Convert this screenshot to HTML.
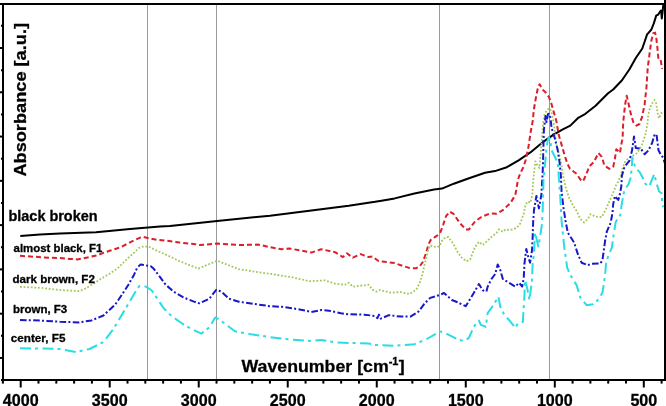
<!DOCTYPE html>
<html><head><meta charset="utf-8"><style>
html,body{margin:0;padding:0;background:#fff;}
body{width:666px;height:406px;overflow:hidden;}
svg{display:block;}
text{font-family:"Liberation Sans",Arial,sans-serif;font-weight:bold;fill:#000;stroke:#000;stroke-width:0.3px;}
</style></head><body>
<svg width="666" height="406" viewBox="0 0 666 406">
<rect x="0" y="0" width="666" height="406" fill="#fff"/>
<g stroke="#999" stroke-width="1">
<line x1="147.5" y1="5" x2="147.5" y2="379"/>
<line x1="216.5" y1="5" x2="216.5" y2="379"/>
<line x1="439.5" y1="5" x2="439.5" y2="379"/>
<line x1="549.5" y1="5" x2="549.5" y2="379"/>
</g>
<g fill="none" stroke-width="2" stroke-linejoin="round">
<polyline stroke="#000" points="20.3,236.0 40.0,234.4 60.0,233.5 96.0,232.2 130.0,229.0 160.0,226.4 170.0,225.9 217.2,220.9 270.0,215.7 309.4,210.8 348.8,205.8 375.0,201.8 380.0,200.9 394.7,198.4 414.4,193.5 434.1,189.6 442.0,188.6 453.8,183.7 467.6,178.7 485.0,172.8 495.0,171.1 506.8,167.2 518.6,160.3 530.4,152.4 543.9,141.3 554.0,134.4 562.8,129.4 570.3,125.6 577.8,118.2 585.4,113.8 595.6,105.8 608.1,93.3 613.2,89.5 622.0,80.2 629.5,69.2 635.8,58.0 642.3,48.5 644.6,41.8 647.1,34.4 648.5,32.8 651.4,29.5 653.8,23.4 656.3,15.4 658.1,14.8 660.0,11.7 661.1,10.5 661.8,18.5 662.8,9.8 663.5,3.0"/>
<polyline stroke="#da1e2a" stroke-dasharray="5 3" points="20.0,255.8 35.0,256.8 50.0,257.8 60.0,258.0 70.0,258.9 77.2,259.4 83.5,258.4 90.7,256.8 97.0,255.3 104.2,252.6 109.6,250.8 116.8,248.5 122.3,246.3 127.7,243.6 134.0,240.4 140.8,237.3 143.0,236.8 150.7,238.7 156.6,239.7 166.4,240.7 179.7,242.6 195.5,244.2 199.4,245.0 217.2,243.6 238.8,245.0 258.6,244.6 270.0,247.2 281.8,249.2 289.7,248.6 299.6,250.2 311.4,252.6 321.3,249.2 335.0,252.2 342.9,257.1 346.9,253.2 352.8,257.7 360.7,254.1 368.6,257.1 372.5,256.5 378.4,261.0 394.7,263.1 404.6,266.5 409.9,268.1 416.0,268.3 419.7,266.3 422.8,262.0 424.6,257.0 426.5,252.0 428.3,244.7 430.8,239.8 434.5,237.3 438.2,234.9 440.6,231.8 443.1,225.0 446.0,216.2 449.9,211.6 453.8,214.2 459.8,223.0 465.7,229.4 468.8,229.6 471.6,226.0 475.1,221.4 481.4,217.0 490.2,213.3 496.5,213.7 502.8,210.2 510.3,203.2 515.3,195.1 518.1,179.1 520.3,173.2 523.3,167.3 526.2,158.4 528.5,146.6 530.7,131.8 532.9,120.0 533.8,110.0 536.1,96.5 538.0,87.5 539.6,84.2 542.2,89.1 545.9,92.8 549.0,97.1 551.5,103.9 553.9,112.5 556.4,121.1 558.7,134.8 561.7,145.1 564.7,155.5 567.6,164.3 570.0,168.7 573.5,171.5 576.6,173.8 580.0,179.0 582.2,181.5 584.0,179.5 585.8,175.1 589.5,166.2 594.0,161.8 598.4,153.0 601.8,156.8 604.4,165.6 609.4,168.8 613.2,166.9 615.0,158.1 616.3,149.3 618.2,151.0 620.0,153.0 621.0,146.0 622.6,138.0 623.2,122.2 625.1,104.6 626.7,95.8 628.2,102.0 630.7,113.4 633.3,122.2 636.4,125.7 639.5,124.0 642.0,117.1 644.6,104.6 646.4,88.0 647.7,68.1 649.0,58.0 650.3,48.0 651.4,40.6 653.2,33.2 655.1,32.6 656.3,38.1 657.3,46.7 657.8,52.0 658.4,59.2 660.7,60.0 662.1,68.8"/>
<polyline stroke="#a2c858" stroke-width="1.8" stroke-dasharray="1.8 1.8" points="20.0,286.9 40.0,287.8 60.0,290.0 79.7,291.2 85.0,288.8 93.1,284.0 101.3,278.6 109.4,273.9 117.5,268.5 125.7,260.3 132.4,254.2 139.2,247.8 142.8,246.6 148.7,246.6 158.6,251.5 170.0,256.5 179.7,261.3 198.4,268.6 217.2,260.7 238.8,269.2 258.6,272.2 270.0,273.9 289.7,276.8 309.4,281.2 325.2,280.4 335.0,283.7 344.9,284.7 348.8,282.7 352.8,286.7 368.6,284.7 372.5,289.6 376.4,291.6 380.0,290.0 390.8,292.7 400.6,292.1 409.5,294.1 416.4,289.5 420.0,282.0 422.2,275.0 424.6,264.4 426.5,257.0 428.3,249.6 430.2,245.3 433.3,246.6 437.0,247.2 439.4,246.0 441.9,241.0 445.6,237.3 448.5,237.0 453.8,244.8 457.5,251.9 461.7,257.6 466.3,261.3 470.1,259.4 475.1,246.8 478.9,241.8 482.7,245.0 486.4,241.8 491.5,236.8 496.5,233.0 499.0,229.3 502.8,231.8 505.3,229.6 510.3,230.0 516.6,228.0 520.4,223.3 523.8,213.5 525.4,205.1 527.9,201.4 530.4,202.6 532.3,195.1 533.4,178.0 535.4,161.3 537.3,165.2 539.3,168.1 541.0,150.0 543.0,125.0 544.5,114.4 547.0,110.0 549.6,108.2 551.5,112.0 554.0,125.0 556.5,145.0 560.0,157.4 563.0,175.1 565.9,188.4 568.9,197.3 573.3,206.1 576.4,210.5 580.4,219.0 584.1,222.5 587.9,219.0 590.5,214.2 595.6,216.7 601.8,217.0 605.8,209.5 608.7,203.0 613.0,193.0 616.0,185.5 618.5,181.0 620.6,176.0 622.6,168.0 625.5,160.7 629.5,157.7 632.5,156.0 636.9,153.3 640.0,148.4 642.5,143.5 645.6,133.6 647.4,124.0 648.3,114.7 650.1,107.3 652.0,103.6 654.5,99.9 656.3,103.6 657.2,111.0 658.8,118.4 660.6,114.7 661.8,112.2"/>
<polyline stroke="#1818c8" stroke-dasharray="6.6 2.2 2 2.4" points="20.0,320.0 40.0,320.5 60.0,321.8 79.7,322.4 91.5,320.4 103.4,315.5 115.2,304.5 122.3,294.2 128.4,284.7 133.8,275.2 137.2,267.8 140.6,264.4 144.0,265.0 146.7,265.5 150.5,266.0 153.8,268.8 159.7,276.7 165.6,284.6 173.5,291.5 183.4,297.4 193.3,301.4 199.4,303.3 209.3,298.7 216.2,289.9 221.1,291.4 229.0,298.7 238.8,301.7 254.6,304.0 270.0,306.2 281.8,306.8 299.6,309.4 311.4,311.9 321.3,310.0 329.1,310.7 341.0,313.3 348.8,314.3 364.6,314.7 374.5,315.9 377.4,318.2 379.0,314.6 380.9,318.6 388.8,315.2 400.6,316.6 410.5,316.6 418.4,311.7 424.3,303.8 430.2,297.9 440.0,294.9 444.0,293.0 451.9,300.0 457.5,302.3 465.7,306.2 470.1,299.1 473.9,292.8 478.9,284.0 482.7,290.3 486.4,291.6 487.7,286.6 491.5,279.0 495.2,274.0 497.7,264.4 500.3,270.0 502.8,279.0 509.0,282.8 515.3,286.6 519.1,282.8 522.2,286.6 523.8,277.0 524.4,264.0 526.3,249.0 528.5,258.0 530.1,262.7 532.0,250.2 532.6,238.8 533.2,221.0 534.0,210.0 536.4,196.0 538.9,208.4 541.4,194.6 542.7,172.0 543.9,130.0 545.5,116.0 546.5,122.0 548.0,114.0 549.0,113.8 550.5,118.0 551.5,127.5 554.6,137.6 557.7,150.1 559.6,162.7 560.9,176.0 561.5,190.8 563.4,207.2 565.3,219.7 567.8,232.6 574.1,242.6 577.8,253.9 581.6,262.7 587.9,265.2 591.8,263.7 600.6,263.3 602.5,259.5 603.7,251.4 605.0,241.3 606.9,231.3 610.6,223.0 612.5,212.9 613.2,204.0 615.0,196.0 618.2,200.0 619.4,196.6 621.3,186.5 621.9,175.7 624.5,166.9 629.5,160.6 632.0,150.6 633.3,141.8 634.0,136.5 635.8,148.0 640.8,148.5 644.6,154.3 648.3,150.6 652.1,143.0 654.6,134.5 656.5,134.4 658.5,150.2 660.5,154.1 663.4,158.0 664.7,163.0"/>
<polyline stroke="#2adce4" stroke-dasharray="11 4 3 4.5" points="20.0,348.3 40.0,348.5 60.0,349.0 75.8,352.0 89.6,349.0 103.4,342.0 113.2,329.3 125.0,309.6 133.8,294.5 136.5,290.0 139.5,285.9 145.9,286.6 151.8,290.5 157.8,299.4 163.7,308.3 171.6,316.1 181.4,323.0 191.3,329.0 201.4,333.6 209.3,327.3 215.2,317.5 219.1,319.4 234.9,331.3 250.7,334.2 270.0,337.1 289.7,339.5 309.4,340.9 321.3,339.9 335.0,342.3 348.8,342.9 368.6,343.5 375.0,345.0 394.7,345.8 414.4,344.2 426.3,339.3 440.0,331.4 444.0,332.4 453.8,337.3 457.5,339.4 463.8,341.2 468.8,338.1 472.6,329.3 476.4,322.5 478.9,320.5 480.8,324.9 485.8,326.8 487.7,313.0 494.0,304.2 498.4,296.6 500.3,306.7 504.0,314.2 510.3,321.5 515.3,328.0 517.8,323.5 522.9,321.8 523.2,316.0 524.4,296.4 525.1,280.0 527.6,290.1 529.5,300.2 532.0,280.0 532.6,265.0 533.9,253.9 535.1,232.6 538.3,246.4 540.2,236.3 542.0,223.8 542.7,210.0 543.5,180.0 546.4,150.0 547.7,140.0 549.0,137.0 550.2,140.0 551.5,150.0 557.7,162.7 558.4,172.0 560.3,197.1 561.5,220.0 564.0,245.1 567.2,267.7 570.3,275.0 576.6,285.1 580.4,297.7 586.6,305.2 593.0,304.3 599.3,298.6 602.5,292.3 603.7,284.8 605.0,276.0 606.0,264.0 608.1,256.4 611.9,247.6 613.2,237.5 615.7,222.0 620.3,215.0 621.5,205.6 623.4,194.6 624.6,189.6 628.3,184.7 630.8,177.3 631.4,171.2 632.0,164.0 632.3,157.5 633.5,162.0 635.7,168.7 639.4,171.8 642.5,177.3 645.6,184.1 649.3,186.6 651.7,180.4 654.2,174.2 656.6,183.5 659.1,191.5 661.6,193.3 662.2,202.0 663.0,207.0"/>
</g>
<g stroke="#000" stroke-width="2" fill="none">
<line x1="0" y1="4" x2="666" y2="4"/>
<line x1="3" y1="3" x2="3" y2="381"/>
<line x1="2" y1="380" x2="666" y2="380"/>
<line x1="665" y1="0" x2="665" y2="381"/>
<line x1="2.90" y1="380" x2="2.90" y2="383.6"/>
<line x1="20.70" y1="380" x2="20.70" y2="387.5"/>
<line x1="38.50" y1="380" x2="38.50" y2="383.6"/>
<line x1="56.31" y1="380" x2="56.31" y2="383.6"/>
<line x1="74.11" y1="380" x2="74.11" y2="383.6"/>
<line x1="91.91" y1="380" x2="91.91" y2="383.6"/>
<line x1="109.71" y1="380" x2="109.71" y2="387.5"/>
<line x1="127.52" y1="380" x2="127.52" y2="383.6"/>
<line x1="145.32" y1="380" x2="145.32" y2="383.6"/>
<line x1="163.12" y1="380" x2="163.12" y2="383.6"/>
<line x1="180.93" y1="380" x2="180.93" y2="383.6"/>
<line x1="198.73" y1="380" x2="198.73" y2="387.5"/>
<line x1="216.53" y1="380" x2="216.53" y2="383.6"/>
<line x1="234.33" y1="380" x2="234.33" y2="383.6"/>
<line x1="252.14" y1="380" x2="252.14" y2="383.6"/>
<line x1="269.94" y1="380" x2="269.94" y2="383.6"/>
<line x1="287.74" y1="380" x2="287.74" y2="387.5"/>
<line x1="305.55" y1="380" x2="305.55" y2="383.6"/>
<line x1="323.35" y1="380" x2="323.35" y2="383.6"/>
<line x1="341.15" y1="380" x2="341.15" y2="383.6"/>
<line x1="358.96" y1="380" x2="358.96" y2="383.6"/>
<line x1="376.76" y1="380" x2="376.76" y2="387.5"/>
<line x1="394.56" y1="380" x2="394.56" y2="383.6"/>
<line x1="412.36" y1="380" x2="412.36" y2="383.6"/>
<line x1="430.17" y1="380" x2="430.17" y2="383.6"/>
<line x1="447.97" y1="380" x2="447.97" y2="383.6"/>
<line x1="465.77" y1="380" x2="465.77" y2="387.5"/>
<line x1="483.58" y1="380" x2="483.58" y2="383.6"/>
<line x1="501.38" y1="380" x2="501.38" y2="383.6"/>
<line x1="519.18" y1="380" x2="519.18" y2="383.6"/>
<line x1="536.98" y1="380" x2="536.98" y2="383.6"/>
<line x1="554.79" y1="380" x2="554.79" y2="387.5"/>
<line x1="572.59" y1="380" x2="572.59" y2="383.6"/>
<line x1="590.39" y1="380" x2="590.39" y2="383.6"/>
<line x1="608.20" y1="380" x2="608.20" y2="383.6"/>
<line x1="626.00" y1="380" x2="626.00" y2="383.6"/>
<line x1="643.80" y1="380" x2="643.80" y2="387.5"/>
<line x1="661.60" y1="380" x2="661.60" y2="383.6"/>
<line x1="1.0" y1="380.10" x2="3" y2="380.10"/>
<line x1="0.0" y1="357.96" x2="3" y2="357.96"/>
<line x1="1.0" y1="335.82" x2="3" y2="335.82"/>
<line x1="0.0" y1="313.68" x2="3" y2="313.68"/>
<line x1="1.0" y1="291.54" x2="3" y2="291.54"/>
<line x1="0.0" y1="269.40" x2="3" y2="269.40"/>
<line x1="1.0" y1="247.26" x2="3" y2="247.26"/>
<line x1="0.0" y1="225.12" x2="3" y2="225.12"/>
<line x1="1.0" y1="202.98" x2="3" y2="202.98"/>
<line x1="0.0" y1="180.84" x2="3" y2="180.84"/>
<line x1="1.0" y1="158.70" x2="3" y2="158.70"/>
<line x1="0.0" y1="136.56" x2="3" y2="136.56"/>
<line x1="1.0" y1="114.42" x2="3" y2="114.42"/>
<line x1="0.0" y1="92.28" x2="3" y2="92.28"/>
<line x1="1.0" y1="70.14" x2="3" y2="70.14"/>
<line x1="0.0" y1="48.00" x2="3" y2="48.00"/>
<line x1="1.0" y1="25.86" x2="3" y2="25.86"/>
</g>
<g font-size="16.1">
<text transform="translate(20.70,406.4) scale(1,1.06)" text-anchor="middle">4000</text>
<text transform="translate(109.71,406.4) scale(1,1.06)" text-anchor="middle">3500</text>
<text transform="translate(198.73,406.4) scale(1,1.06)" text-anchor="middle">3000</text>
<text transform="translate(287.74,406.4) scale(1,1.06)" text-anchor="middle">2500</text>
<text transform="translate(376.76,406.4) scale(1,1.06)" text-anchor="middle">2000</text>
<text transform="translate(465.77,406.4) scale(1,1.06)" text-anchor="middle">1500</text>
<text transform="translate(554.79,406.4) scale(1,1.06)" text-anchor="middle">1000</text>
<text transform="translate(643.80,406.4) scale(1,1.06)" text-anchor="middle">500</text>
</g>
<text transform="translate(26.3,176.6) rotate(-90) scale(1,0.93)" font-size="18.2">Absorbance [a.u.]</text>
<text x="8.5" y="220.5" font-size="14.45">black broken</text>
<text x="13.6" y="251.9" font-size="11.42">almost black, F1</text>
<text x="12.44" y="283" font-size="11.6">dark brown, F2</text>
<text x="12.95" y="313.3" font-size="11.5">brown, F3</text>
<text x="10.83" y="342.3" font-size="11.7">center, F5</text>
<text transform="translate(241.5,372.4) scale(1,0.93)" font-size="17.74">Wavenumber [cm<tspan font-size="11" dy="-8.2">-1</tspan><tspan dx="0.4" dy="8.2">]</tspan></text>
</svg>
</body></html>
